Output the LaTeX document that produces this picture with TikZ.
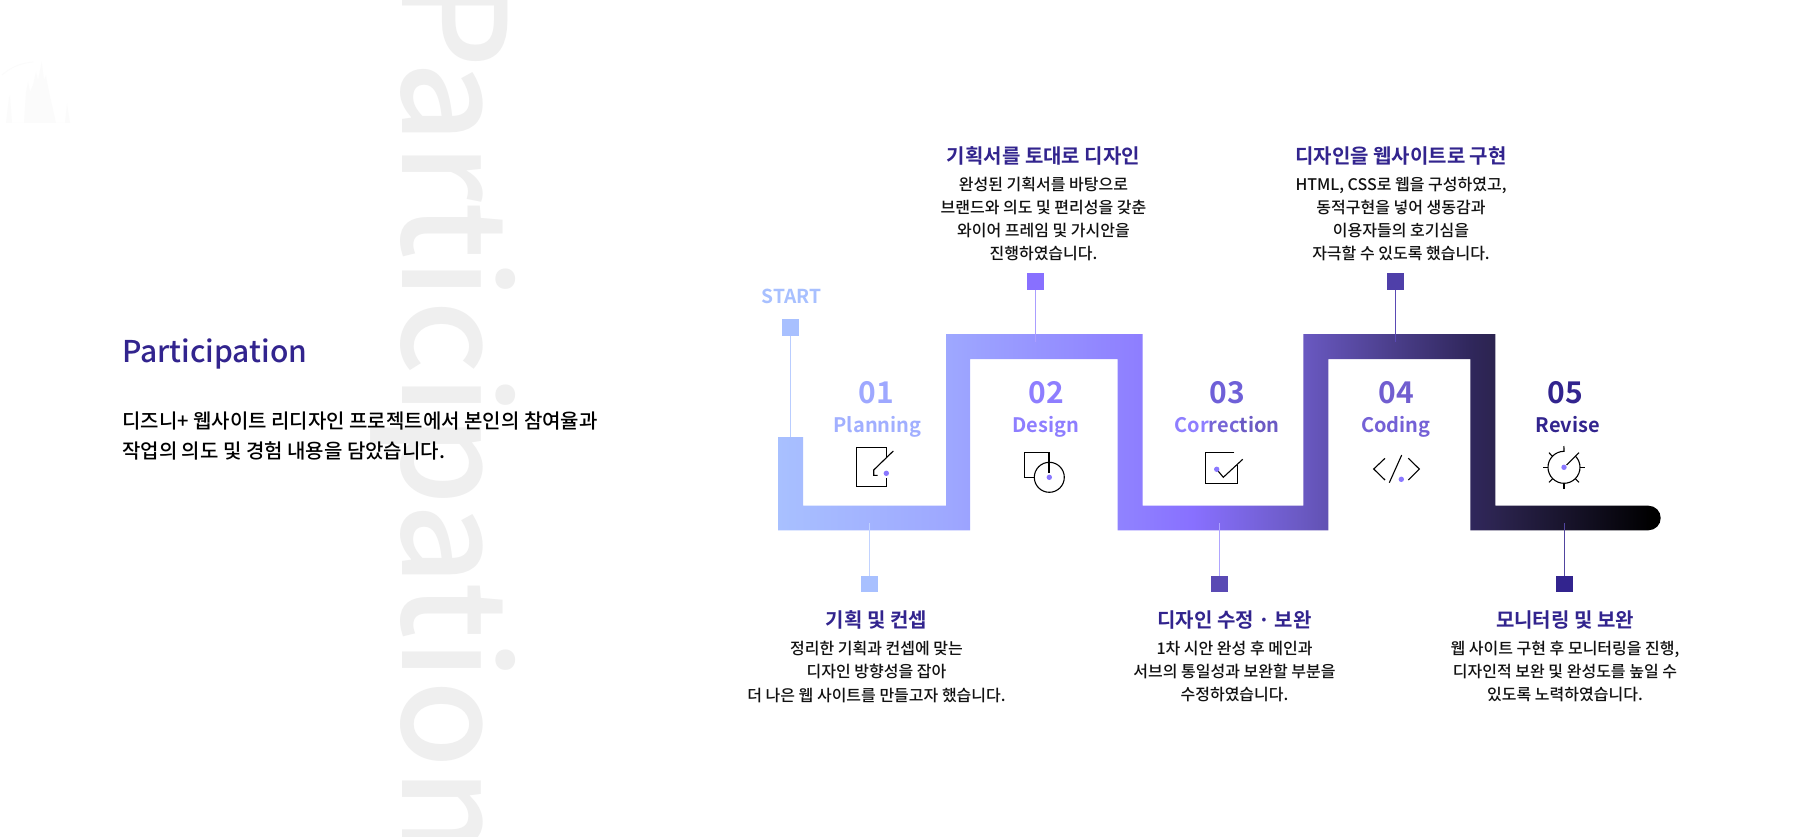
\documentclass[tikz,border=0pt]{standalone}
\usepackage{fontspec}
\setmainfont{Noto Sans CJK KR Medium}
\newfontfamily\bld{Noto Sans CJK KR Bold}
\definecolor{ttl}{HTML}{32248E}
\definecolor{ink}{HTML}{111111}
\definecolor{ghost}{HTML}{EFEFEF}
\definecolor{castle}{HTML}{FBFBFB}
\definecolor{g0}{HTML}{A8C0FF}
\definecolor{g1}{HTML}{9EA8FF}
\definecolor{g2}{HTML}{8E7EFF}
\definecolor{g3}{HTML}{8870FF}
\definecolor{g4}{HTML}{6B5AC4}
\definecolor{g5}{HTML}{30275C}
\definecolor{g6}{HTML}{2C2450}
\definecolor{g7}{HTML}{000000}
\definecolor{dotc}{HTML}{8A78FF}
\definecolor{nthree}{HTML}{6F60D8}
\pgfdeclarehorizontalshading{bandshade}{100bp}{color(0bp)=(g0); color(25bp)=(g0); color(34.5bp)=(g1); color(45.5bp)=(g2); color(48.5bp)=(g3); color(54.5bp)=(g4); color(64.2bp)=(g5); color(65.5bp)=(g6); color(74.5bp)=(g7); color(100bp)=(g7)}
\tikzset{
  sq/.style={draw=none,fill=#1,minimum size=16.5pt,inner sep=0pt,outer sep=0pt},
  stem/.style={line width=1.2pt,draw=#1},
  num/.style={font=\fontsize{30}{30}\selectfont\bld,text=#1,inner sep=0pt,anchor=base},
  word/.style={font=\fontsize{20}{20}\selectfont\bld,text=#1,inner sep=0pt,anchor=base},
  head/.style={font=\fontsize{20}{20}\selectfont\bld,text=ttl,inner sep=0pt,anchor=base},
  small/.style={font=\fontsize{16}{23.2}\selectfont,text=ink,align=center,inner sep=0pt,anchor=north},
  icon/.style={line width=1.1pt,draw=black,line join=miter},
  dotm/.style={fill=dotc,draw=none,circle,minimum size=5.4pt,inner sep=0pt}
}
\begin{document}
\begin{tikzpicture}[x=1pt,y=-1pt]
\useasboundingbox (0,0) rectangle (1817,837);
\fill[white] (0,0) rectangle (1817,837);
% castle
\fill[castle] (6,123) -- (9,98) -- (10,96) -- (12,123) -- (24,123) -- (26,92) -- (28,82) -- (30,92) -- (33,85) -- (36,72) -- (38,80) -- (41.7,62) -- (44,80) -- (46,76) -- (49,92) -- (56,123) -- (65,123) -- (67,104) -- (70,123) -- cycle;
\draw[castle,line width=.8pt] (2,75) .. controls (10,68) and (20,63) .. (33,62);
% ghost
\node[rotate=-90,anchor=base west,inner sep=0pt,text=ghost,font=\fontsize{143}{143}\selectfont] (ghost) at (402,-25) {Participation};
% band
\path[shading=bandshade] (778,437) -- (803,437) -- (803,505.7) -- (946,505.7) -- (946,334) -- (1142.5,334) -- (1142.5,505.7) -- (1303.3,505.7) -- (1303.3,334) -- (1495.3,334) -- (1495.3,505.7) -- (1648.4,505.7) arc[start angle=90,end angle=-90,radius=12.3pt] -- (1470.3,530.3) -- (1470.3,359) -- (1328.3,359) -- (1328.3,530.3) -- (1117.5,530.3) -- (1117.5,359) -- (970,359) -- (970,530.3) -- (778,530.3) -- cycle;
% left text
\node[anchor=base west,inner sep=0pt,text=ttl,font=\fontsize{30}{30}\selectfont] (title) at (122,362.5) {Participation};
\node[anchor=west,inner sep=0pt,text=black,font=\fontsize{20}{30}\selectfont,align=left] (intro) at (122,435.5) {디즈니+ 웹사이트 리디자인 프로젝트에서 본인의 참여율과\\작업의 의도 및 경험 내용을 담았습니다.};
% start
\node[font=\fontsize{19.2}{19.2}\selectfont\bld,text=g0,inner sep=0pt,anchor=base] (start) at (791.4,303.2) {START};
% squares & stems
\node[sq=g0] (s0) at (790.7,327.3) {};
\coordinate (e0) at (790.7,437);
\draw[stem=g0!80!white] (s0.south) -- (e0);
\node[sq=g0] (s1) at (869.6,584) {};
\coordinate (e1) at (869.6,523);
\draw[stem=g0!70!white] (s1.north) -- (e1);
\node[sq=g3] (s2) at (1035.7,281.7) {};
\coordinate (e2) at (1035.7,341.7);
\draw[stem=g2!75!white] (s2.south) -- (e2);
\node[sq=g4!70!ttl] (s3) at (1219.6,584) {};
\coordinate (e3) at (1219.6,523);
\draw[stem=g2!70!white] (s3.north) -- (e3);
\node[sq=g4!50!ttl] (s4) at (1395.7,281.7) {};
\coordinate (e4) at (1395.7,341.7);
\draw[stem=g4!70!ttl] (s4.south) -- (e4);
\node[sq=ttl] (s5) at (1564.3,584) {};
\coordinate (e5) at (1564.3,523);
\draw[stem=ttl!85!white] (s5.north) -- (e5);
% numbers and words
\node[num=g1] (n1) at (876,403.5) {01};
\node[word=g1!70!g0] (w1) at (877.5,432) {Planning};
\node[num=g2] (n2) at (1046,403.5) {02};
\node[word=g2] (w2) at (1046,432) {Design};
\node[num=nthree] (n3) at (1227,403.5) {03};
\node[word=g3] (w3) at (1227,432) {\textcolor{g2}{Cor}\textcolor{g4!70!g2}{rec}\textcolor{g4}{tion}};
\node[num=g4!80!g3] (n4) at (1396,403.5) {04};
\node[word=g4!70!g3] (w4) at (1396,432) {Coding};
\node[num=ttl] (n5) at (1565,403.5) {05};
\node[word=ttl] (w5) at (1568,432) {Revise};
% icons
\draw[icon] (886.7,458) -- (886.7,447.3) -- (856.3,447.3) -- (856.3,486.7) -- (886.7,486.7) -- (886.7,477.5);
\draw[icon] (893.3,451) -- (873.7,470) -- (873.7,475.3) -- (877.7,475.3);
\node[dotm] (d1) at (886.3,473.3) {};
\draw[icon] (1034.3,477.7) -- (1024.3,477.7) -- (1024.3,452.7) -- (1049,452.7) -- (1049,473);
\draw[icon] (1049.3,477.3) circle[radius=15pt];
\node[dotm] (d2) at (1049.3,477.3) {};
\draw[icon] (1234.3,452.3) -- (1205.7,452.3) -- (1205.7,483.3) -- (1237.3,483.3) -- (1237.3,465);
\draw[icon] (1216.7,469.3) -- (1223.3,477.3) -- (1242.7,459.3);
\node[dotm] (d3) at (1216.7,469.3) {};
\draw[icon] (1385,458.3) -- (1373.7,469) -- (1385,480);
\draw[icon] (1401.7,455) -- (1389.3,482.7);
\draw[icon] (1408.3,458.3) -- (1419.3,469) -- (1408.3,480);
\node[dotm] (d4) at (1401.3,479.3) {};
\draw[icon] (1575.3,456) arc[start angle=45,end angle=-270,radius=16pt] -- (1563.9,446);
\draw[icon] (1566.5,465) -- (1579,452.7);
\draw[icon] (1543,467.3) -- (1548,467.3);
\draw[icon] (1580,467.3) -- (1585,467.3);
\draw[icon] (1564,483.3) -- (1564,488.5);
\draw[icon] (1549,452.7) -- (1552.7,456.7);
\draw[icon] (1549,482.3) -- (1552.7,478.7);
\draw[icon] (1579,482.3) -- (1575.3,478.7);
\node[dotm] (d5) at (1564,467.3) {};
% heads and copy
\node[head] (h2) at (1043.5,163.3) {기획서를 토대로 디자인};
\node[small] (b2) at (1043.5,176.6) {완성된 기획서를 바탕으로\\브랜드와 의도 및 편리성을 갖춘\\와이어 프레임 및 가시안을\\진행하였습니다.};
\node[head] (h4) at (1401,163.3) {디자인을 웹사이트로 구현};
\node[small] (b4) at (1401,176.6) {HTML, CSS로 웹을 구성하였고,\\동적구현을 넣어 생동감과\\이용자들의 호기심을\\자극할 수 있도록 했습니다.};
\node[head] (h1) at (876.5,627.3) {기획 및 컨셉};
\node[small] (b1) at (876.5,641) {정리한 기획과 컨셉에 맞는\\디자인 방향성을 잡아\\더 나은 웹 사이트를 만들고자 했습니다.};
\node[head] (h3) at (1234.5,627.3) {디자인 수정 · 보완};
\node[small] (b3) at (1234.5,641) {1차 시안 완성 후 메인과\\서브의 통일성과 보완할 부분을\\수정하였습니다.};
\node[head] (h5) at (1565,627.3) {모니터링 및 보완};
\node[small] (b5) at (1565,641) {웹 사이트 구현 후 모니터링을 진행,\\디자인적 보완 및 완성도를 높일 수\\있도록 노력하였습니다.};
\end{tikzpicture}
\end{document}
